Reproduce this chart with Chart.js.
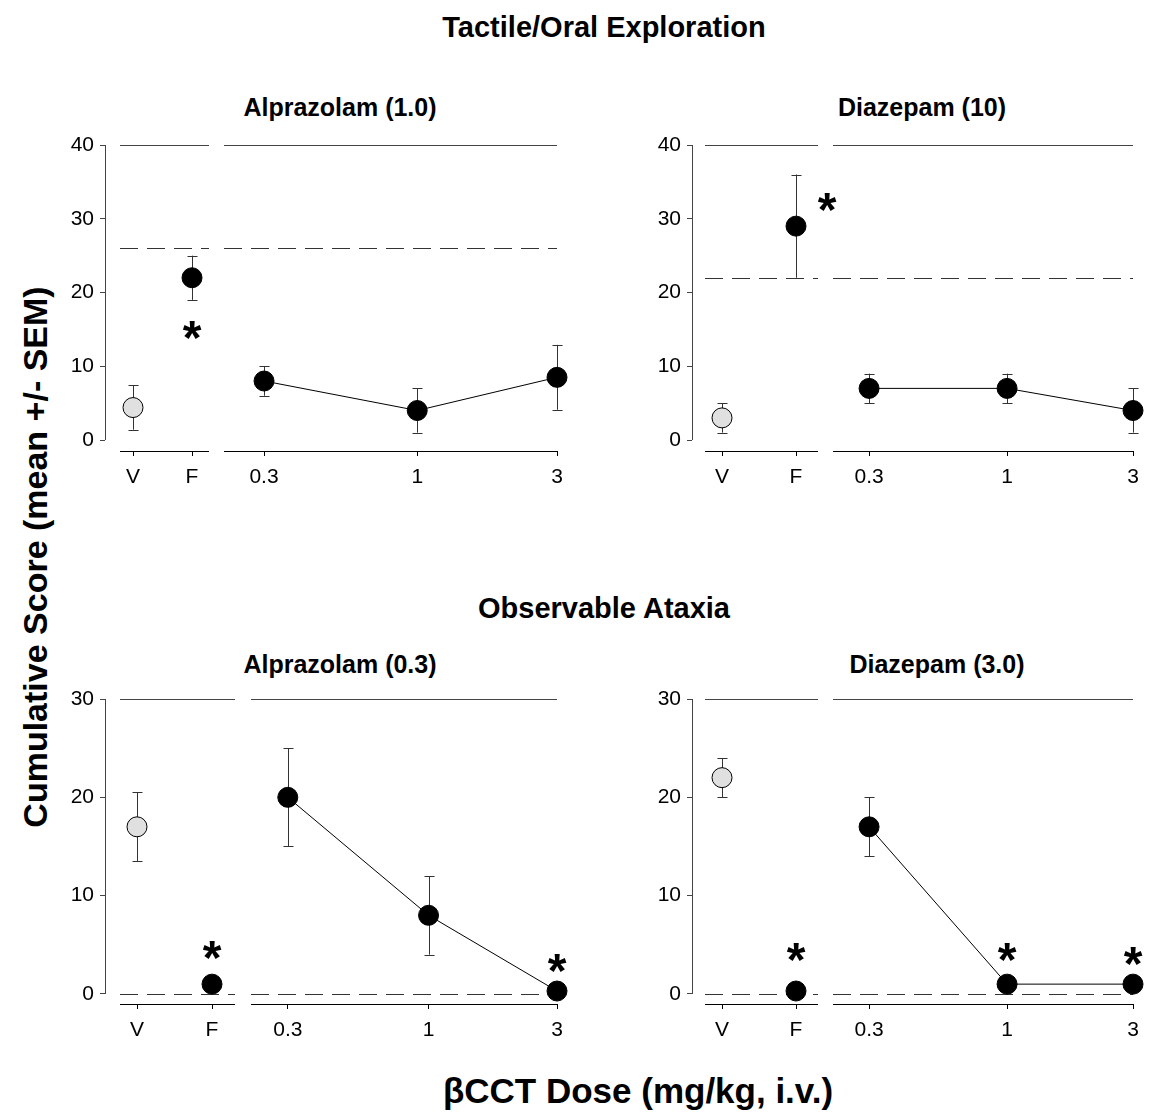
<!DOCTYPE html>
<html><head><meta charset="utf-8">
<script src="https://cdn.jsdelivr.net/npm/chart.js@4/dist/chart.umd.min.js"></script>
<style>
html,body{margin:0;padding:0;background:#fff;}
#wrap{position:relative;width:1155px;height:1116px;overflow:hidden;background:#fff;font-family:"Liberation Sans",Arial,sans-serif;}
canvas{position:absolute;}
.t{position:absolute;font-weight:bold;line-height:1;white-space:nowrap;color:#000;transform:translate(-50%,-50%);}
</style></head><body><div id="wrap"></div>
<script>
// ---------- shared categories / ticks ----------
const groupLabels = ['V', 'F'];
const doseValues = [0.3, 1, 3];
const doseLabels = ['0.3', '1', '3'];
const yTicksTactile = [0, 10, 20, 30, 40];
const yTicksAtaxia = [0, 10, 20, 30];

// ---------- Tactile/Oral Exploration : Alprazolam (1.0) ----------
const alpTactGroupMean = [4.4, 22];
const alpTactGroupSem  = [3.0, 3.0];
const alpTactGroupStar = [null, 15.4];
const alpTactDoseMean  = [8, 4, 8.5];
const alpTactDoseSem   = [2, 3, 4.4];
const alpTactDoseStar  = [null, null, null];
const alpTactControl   = 26;

// ---------- Tactile/Oral Exploration : Diazepam (10) ----------
const dzpTactGroupMean = [3, 29];
const dzpTactGroupSem  = [2, 7];
const dzpTactGroupStar = [null, 32.8];
const dzpTactDoseMean  = [7, 7, 4];
const dzpTactDoseSem   = [2, 2, 3];
const dzpTactDoseStar  = [null, null, null];
const dzpTactControl   = 22;

// ---------- Observable Ataxia : Alprazolam (0.3) ----------
const alpAtaxGroupMean = [17, 1];
const alpAtaxGroupSem  = [3.5, 0];
const alpAtaxGroupStar = [null, 4.8];
const alpAtaxDoseMean  = [20, 8, 0.3];
const alpAtaxDoseSem   = [5, 4, 0];
const alpAtaxDoseStar  = [null, null, 3.5];
const alpAtaxControl   = 0;

// ---------- Observable Ataxia : Diazepam (3.0) ----------
const dzpAtaxGroupMean = [22, 0.3];
const dzpAtaxGroupSem  = [2, 0];
const dzpAtaxGroupStar = [null, 4.6];
const dzpAtaxDoseMean  = [17, 1, 1];
const dzpAtaxDoseSem   = [3, 0, 0];
const dzpAtaxDoseStar  = [null, 4.6, 4.2];
const dzpAtaxControl   = 0;

// ---------- texts ----------
const texts = [
  {s:'Tactile/Oral Exploration', x:604, y:27, size:29},
  {s:'Alprazolam (1.0)', x:340, y:107, size:25},
  {s:'Diazepam (10)', x:922, y:107, size:25},
  {s:'Observable Ataxia', x:604, y:608, size:29},
  {s:'Alprazolam (0.3)', x:340, y:664, size:25},
  {s:'Diazepam (3.0)', x:937, y:664, size:25},
  {s:'βCCT Dose (mg/kg, i.v.)', x:638, y:1090, size:35},
  {s:'Cumulative Score (mean +/- SEM)', x:35, y:557, size:34, rot:true}
];

const FONT = '"Liberation Sans", Arial, sans-serif';
Chart.defaults.font.family = FONT;
Chart.defaults.color = '#000';

const wrap = document.getElementById('wrap');
texts.forEach(t => {
  const d = document.createElement('div');
  d.className = 't';
  d.textContent = t.s;
  d.style.left = t.x + 'px';
  d.style.top = t.y + 'px';
  d.style.fontSize = t.size + 'px';
  if (t.rot) d.style.transform = 'translate(-50%,-50%) rotate(-90deg)';
  wrap.appendChild(d);
});

function mkCanvas(left, top, w, h) {
  const c = document.createElement('canvas');
  c.width = w; c.height = h;
  c.style.left = left + 'px'; c.style.top = top + 'px';
  c.style.width = w + 'px'; c.style.height = h + 'px';
  wrap.appendChild(c);
  return c;
}

function seg(ctx, x1, y1, x2, y2) {
  ctx.beginPath(); ctx.moveTo(x1, y1); ctx.lineTo(x2, y2); ctx.stroke();
}

const STAR_SIZE = 48;
const panelPlugin = {
  id: 'panel',
  beforeDatasetsDraw(chart, args, o) {
    const ctx = chart.ctx, a = chart.chartArea, x = chart.scales.x, y = chart.scales.y;
    ctx.save();
    ctx.lineWidth = 1;
    const segL = a.left + o.inset;
    const topY = Math.round(y.getPixelForValue(o.yMax)) + 0.5;
    const botY = Math.round(a.bottom) + 0.5;
    ctx.strokeStyle = '#444';
    seg(ctx, segL, topY, a.right, topY);
    ctx.strokeStyle = '#000';
    seg(ctx, segL, botY, a.right, botY);
    if (o.yAxis) {
      const ax = Math.round(a.left) + 0.5;
      ctx.strokeStyle = '#444';
      seg(ctx, ax, y.getPixelForValue(0), ax, y.getPixelForValue(o.yMax));
    }
    // control (dashed) reference line
    ctx.strokeStyle = '#333';
    ctx.setLineDash([18, 9]);
    const cy = Math.round(y.getPixelForValue(o.control)) + 0.5;
    seg(ctx, segL, cy, a.right, cy);
    ctx.setLineDash([]);
    // error bars
    ctx.strokeStyle = '#333';
    o.xs.forEach((xv, i) => {
      const sem = o.sem[i];
      if (!sem) return;
      const px = Math.round(x.getPixelForValue(xv)) + 0.5;
      const y1 = y.getPixelForValue(o.mean[i] - sem);
      const y2 = y.getPixelForValue(o.mean[i] + sem);
      seg(ctx, px, y1, px, y2);
      seg(ctx, px - 5, Math.round(y1) + 0.5, px + 5, Math.round(y1) + 0.5);
      seg(ctx, px - 5, Math.round(y2) + 0.5, px + 5, Math.round(y2) + 0.5);
    });
    ctx.restore();
  },
  afterDatasetsDraw(chart, args, o) {
    const ctx = chart.ctx, x = chart.scales.x, y = chart.scales.y;
    ctx.save();
    ctx.fillStyle = '#000';
    ctx.font = 'bold ' + STAR_SIZE + 'px ' + FONT;
    ctx.textAlign = 'center';
    ctx.textBaseline = 'alphabetic';
    o.xs.forEach((xv, i) => {
      const sv = o.stars[i];
      if (sv === null || sv === undefined) return;
      const px = x.getPixelForValue(xv) + (o.starDx ? o.starDx[i] : 0);
      const py = y.getPixelForValue(sv);
      ctx.fillText('*', px, py + 0.575 * STAR_SIZE);
    });
    ctx.restore();
  }
};

const tickFont = {family: FONT, size: 21};
const PAD_TOP = 20, X_AXIS_H = 45, Y_AXIS_W = 50;

function yScale(p, show) {
  const s = {
    type: 'linear', min: p.yMin, max: p.yMax, bounds: 'data',
    display: show,
    afterBuildTicks: sc => { sc.ticks = p.yTicks.map(v => ({value: v})); },
    ticks: {font: tickFont, color: '#000', padding: 6, autoSkip: false},
    grid: {drawOnChartArea: false, drawTicks: true, tickLength: 5, color: '#444'},
    border: {display: false}
  };
  if (show) s.afterFit = sc => { sc.width = Y_AXIS_W; };
  return s;
}

function buildPanel(p) {
  const areaH = p.chartBottom - p.chartTop;
  const h = PAD_TOP + areaH + X_AXIS_H;
  const canvTop = p.chartTop - PAD_TOP;

  // --- V / F part ---
  const L = p.left;
  const pxPerUnit = L.fPx - L.vPx;
  const lw = Y_AXIS_W + (L.right - L.axisX) + 30;
  const c1 = mkCanvas(L.axisX - Y_AXIS_W, canvTop, lw, h);
  new Chart(c1, {
    type: 'scatter',
    data: {datasets: [{
      data: groupLabels.map((g, i) => ({x: i, y: p.groupMean[i]})),
      showLine: false,
      pointRadius: 10,
      pointBorderWidth: 1,
      pointBorderColor: '#000',
      pointBackgroundColor: ['#e0e0e0', '#000'],
      clip: false
    }]},
    options: {
      responsive: false, animation: false, devicePixelRatio: 1, events: [],
      layout: {padding: {top: PAD_TOP, right: 30, left: 0, bottom: 0}},
      plugins: {
        legend: {display: false}, tooltip: {enabled: false},
        panel: {inset: L.inset, yMax: p.yMax, yAxis: true, control: p.control,
                xs: groupLabels.map((g, i) => i), mean: p.groupMean, sem: p.groupSem,
                stars: p.groupStar, starDx: p.groupStarDx}
      },
      scales: {
        x: {
          type: 'linear', bounds: 'data',
          min: (L.axisX - L.vPx) / pxPerUnit, max: (L.right - L.vPx) / pxPerUnit,
          afterBuildTicks: s => { s.ticks = groupLabels.map((g, i) => ({value: i})); },
          afterFit: s => { s.height = X_AXIS_H; },
          ticks: {font: tickFont, color: '#000', padding: 9, autoSkip: false, maxRotation: 0,
                  callback: v => groupLabels[v]},
          grid: {drawOnChartArea: false, drawTicks: true, tickLength: 5, color: '#000'},
          border: {display: false}
        },
        y: yScale(p, true)
      }
    },
    plugins: [panelPlugin]
  });

  // --- dose part ---
  const D = p.dose;
  const rw = 10 + (D.right - D.left) + 25;
  const c2 = mkCanvas(D.left - 10, canvTop, rw, h);
  new Chart(c2, {
    type: 'scatter',
    data: {datasets: [{
      data: doseValues.map((d, i) => ({x: d, y: p.doseMean[i]})),
      showLine: true,
      borderColor: '#000', borderWidth: 1,
      pointRadius: 10, pointBorderWidth: 1,
      pointBorderColor: '#000', pointBackgroundColor: '#000',
      clip: false
    }]},
    options: {
      responsive: false, animation: false, devicePixelRatio: 1, events: [],
      layout: {padding: {top: PAD_TOP, right: 25, left: 10, bottom: 0}},
      plugins: {
        legend: {display: false}, tooltip: {enabled: false},
        panel: {inset: 0, yMax: p.yMax, yAxis: false, control: p.control,
                xs: doseValues, mean: p.doseMean, sem: p.doseSem, stars: p.doseStar}
      },
      scales: {
        x: {
          type: 'logarithmic', bounds: 'data', min: 0.219, max: 3,
          afterBuildTicks: s => { s.ticks = doseValues.map(v => ({value: v})); },
          afterFit: s => { s.height = X_AXIS_H; },
          ticks: {font: tickFont, color: '#000', padding: 9, autoSkip: false, maxRotation: 0,
                  callback: v => doseLabels[doseValues.indexOf(v)]},
          grid: {drawOnChartArea: false, drawTicks: true, tickLength: 5, color: '#000'},
          border: {display: false}
        },
        y: yScale(p, false)
      }
    },
    plugins: [panelPlugin]
  });
}

const panels = [
  {chartTop: 145, chartBottom: 451, yMin: -1.49, yMax: 40, yTicks: yTicksTactile,
   left: {axisX: 105, right: 209, vPx: 133, fPx: 192, inset: 15},
   dose: {left: 223, right: 557},
   groupMean: alpTactGroupMean, groupSem: alpTactGroupSem, groupStar: alpTactGroupStar,
   doseMean: alpTactDoseMean, doseSem: alpTactDoseSem, doseStar: alpTactDoseStar,
   control: alpTactControl},
  {chartTop: 145, chartBottom: 451, yMin: -1.49, yMax: 40, yTicks: yTicksTactile,
   left: {axisX: 692, right: 818, vPx: 722, fPx: 796, inset: 13},
   dose: {left: 832, right: 1133},
   groupMean: dzpTactGroupMean, groupSem: dzpTactGroupSem, groupStar: dzpTactGroupStar,
   groupStarDx: [0, 31],
   doseMean: dzpTactDoseMean, doseSem: dzpTactDoseSem, doseStar: dzpTactDoseStar,
   control: dzpTactControl},
  {chartTop: 699, chartBottom: 1004, yMin: -1.02, yMax: 30, yTicks: yTicksAtaxia,
   left: {axisX: 105, right: 235, vPx: 137, fPx: 212, inset: 15},
   dose: {left: 250, right: 557},
   groupMean: alpAtaxGroupMean, groupSem: alpAtaxGroupSem, groupStar: alpAtaxGroupStar,
   doseMean: alpAtaxDoseMean, doseSem: alpAtaxDoseSem, doseStar: alpAtaxDoseStar,
   control: alpAtaxControl},
  {chartTop: 699, chartBottom: 1004, yMin: -1.02, yMax: 30, yTicks: yTicksAtaxia,
   left: {axisX: 692, right: 818, vPx: 722, fPx: 796, inset: 13},
   dose: {left: 832, right: 1133},
   groupMean: dzpAtaxGroupMean, groupSem: dzpAtaxGroupSem, groupStar: dzpAtaxGroupStar,
   doseMean: dzpAtaxDoseMean, doseSem: dzpAtaxDoseSem, doseStar: dzpAtaxDoseStar,
   control: dzpAtaxControl}
];
panels.forEach(buildPanel);
</script></body></html>
